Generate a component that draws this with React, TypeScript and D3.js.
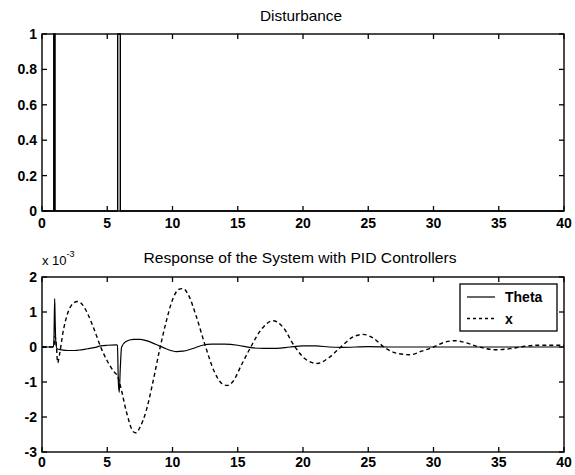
import React from "react";
import * as d3 from "d3";

// Disturbance pulse input (time in s, amplitude)
const distT = [0, 0.9, 0.9, 1.0, 1.0, 5.8, 5.8, 6.0, 6.0, 40];
const distV = [0, 0, 1, 1, 0, 0, 1, 1, 0, 0];

// Theta response (x 10^-3)
const thetaT = [0, 0.88, 0.92, 0.97, 1.0, 1.05, 1.15, 1.5, 2.0, 2.5, 3.0, 3.5, 4.0, 4.5, 5.0, 5.7, 5.78, 5.85, 5.92, 6.0, 6.1, 6.4, 7.0, 7.5, 8.0, 8.7, 9.5, 10.3, 10.8, 11.5, 12.3, 13.0, 14.0, 15.0, 16.0, 17.0, 18.0, 19.0, 20.0, 21.0, 22.0, 23.0, 25.0, 27.0, 30.0, 40.0];
const thetaV = [0, 0, 0.3, 1.38, 0.9, 0.2, -0.05, -0.08, -0.1, -0.1, -0.08, -0.05, -0.02, 0.03, 0.05, 0.06, 0.05, -1.0, -1.3, -0.6, 0.0, 0.15, 0.22, 0.22, 0.18, 0.08, -0.05, -0.13, -0.12, -0.05, 0.05, 0.08, 0.08, 0.05, -0.02, -0.04, -0.04, 0.0, 0.03, 0.03, 0.0, -0.01, 0.01, 0.0, 0.0, 0.0];

// Cart position x response (x 10^-3)
const xT = [0, 0.9, 1.0, 1.1, 1.2, 1.35, 1.6, 2.0, 2.4, 2.7, 3.0, 3.5, 4.0, 4.5, 5.0, 5.5, 5.8, 6.0, 6.5, 7.0, 7.2, 7.5, 8.0, 8.5, 9.0, 9.5, 10.0, 10.5, 10.8, 11.2, 11.8, 12.5, 13.2, 13.8, 14.2, 14.6, 15.3, 16.0, 16.8, 17.7, 18.5, 19.3, 20.2, 21.1, 22.0, 22.9, 23.8, 24.6, 25.4, 26.2, 27.2, 28.2, 29.1, 30.0, 30.8, 31.6, 32.5, 33.5, 34.8, 36.0, 37.0, 38.0, 39.0, 40.0];
const xV = [0, 0, 0.3, 0.05, -0.45, -0.2, 0.4, 1.0, 1.25, 1.3, 1.25, 0.95, 0.5, 0.0, -0.4, -0.7, -0.85, -1.1, -1.9, -2.42, -2.45, -2.3, -1.8, -1.0, -0.1, 0.7, 1.35, 1.65, 1.67, 1.5, 0.9, 0.05, -0.7, -1.05, -1.1, -1.0, -0.5, 0.0, 0.5, 0.75, 0.55, 0.05, -0.35, -0.47, -0.3, 0.0, 0.28, 0.36, 0.25, 0.0, -0.18, -0.22, -0.12, 0.0, 0.13, 0.18, 0.12, 0.0, -0.08, -0.04, 0.02, 0.05, 0.05, 0.05];

const xTicks = [0, 5, 10, 15, 20, 25, 30, 35, 40];
const topYTicks = [0, 0.2, 0.4, 0.6, 0.8, 1];
const botYTicks = [-3, -2, -1, 0, 1, 2];

const W = 575;
const H = 475;
const L = 42;
const R = 564;
const FONT = "'Liberation Sans', Arial, Helvetica, sans-serif";
const TICK = 5;

const xScale = d3.scaleLinear().domain([0, 40]).range([L, R]);

type AxProps = {
  y: d3.ScaleLinear<number, number>;
  yTicks: number[];
  labelDy: number;
};

function AxesBox({ y, yTicks, labelDy }: AxProps) {
  const [yb, yt] = y.range();
  return (
    <g>
      <rect x={L} y={yt} width={R - L} height={yb - yt} fill="none" stroke="#000" strokeWidth={1.4} />
      {xTicks.map((t) => (
        <g key={"x" + t}>
          <line x1={xScale(t)} x2={xScale(t)} y1={yb} y2={yb - TICK} stroke="#000" strokeWidth={1.3} />
          <line x1={xScale(t)} x2={xScale(t)} y1={yt} y2={yt + TICK} stroke="#000" strokeWidth={1.3} />
          <text x={xScale(t)} y={yb + labelDy} textAnchor="middle" fontSize={14} fontWeight="bold" fontFamily={FONT}>
            {t}
          </text>
        </g>
      ))}
      {yTicks.map((v) => (
        <g key={"y" + v}>
          <line x1={L} x2={L + TICK} y1={y(v)} y2={y(v)} stroke="#000" strokeWidth={1.3} />
          <line x1={R} x2={R - TICK} y1={y(v)} y2={y(v)} stroke="#000" strokeWidth={1.3} />
          <text x={L - 5} y={y(v) + 5} textAnchor="end" fontSize={14} fontWeight="bold" fontFamily={FONT}>
            {String(v)}
          </text>
        </g>
      ))}
    </g>
  );
}

export default function App() {
  const yTop = d3.scaleLinear().domain([0, 1]).range([211, 34]);
  const yBot = d3.scaleLinear().domain([-3, 2]).range([452, 277]);

  const distLine = d3
    .line<number>()
    .x((_, i) => xScale(distT[i]))
    .y((v) => yTop(v))(distV) as string;

  const thetaLine = d3
    .line<number>()
    .x((_, i) => xScale(thetaT[i]))
    .y((v) => yBot(v))
    .curve(d3.curveMonotoneX)(thetaV) as string;

  const xLine = d3
    .line<number>()
    .x((_, i) => xScale(xT[i]))
    .y((v) => yBot(v))
    .curve(d3.curveMonotoneX)(xV) as string;

  return (
    <svg width={W} height={H} style={{ position: "absolute", left: 0, top: 0, background: "#fff" }}>
      <rect x={0} y={0} width={W} height={H} fill="#fff" />

      {/* Disturbance panel */}
      <text x={301} y={21} textAnchor="middle" fontSize={14.5} fontFamily={FONT} textLength={82} lengthAdjust="spacingAndGlyphs">
        Disturbance
      </text>
      <path d={distLine} fill="none" stroke="#000" strokeWidth={1.4} />
      <AxesBox y={yTop} yTicks={topYTicks} labelDy={17} />

      {/* Response panel */}
      <text x={300} y={263} textAnchor="middle" fontSize={14.5} fontFamily={FONT} textLength={313} lengthAdjust="spacingAndGlyphs">
        Response of the System with PID Controllers
      </text>
      <text x={42} y={265} fontSize={13} fontFamily={FONT}>
        x 10
        <tspan dy={-8} fontSize={9}>-3</tspan>
      </text>
      <path d={thetaLine} fill="none" stroke="#000" strokeWidth={1.2} />
      <path d={xLine} fill="none" stroke="#000" strokeWidth={1.4} strokeDasharray="4,3" />
      <AxesBox y={yBot} yTicks={botYTicks} labelDy={15} />

      {/* Legend */}
      <g>
        <rect x={460} y={284} width={97} height={47} fill="#fff" stroke="#000" strokeWidth={1.3} />
        <line x1={467} x2={495} y1={297} y2={297} stroke="#000" strokeWidth={1.2} />
        <text x={505} y={302} fontSize={14} fontWeight="bold" fontFamily={FONT}>
          Theta
        </text>
        <line x1={467} x2={495} y1={318.5} y2={318.5} stroke="#000" strokeWidth={1.4} strokeDasharray="3,3" />
        <text x={505} y={323.5} fontSize={14} fontWeight="bold" fontFamily={FONT}>
          x
        </text>
      </g>
    </svg>
  );
}
